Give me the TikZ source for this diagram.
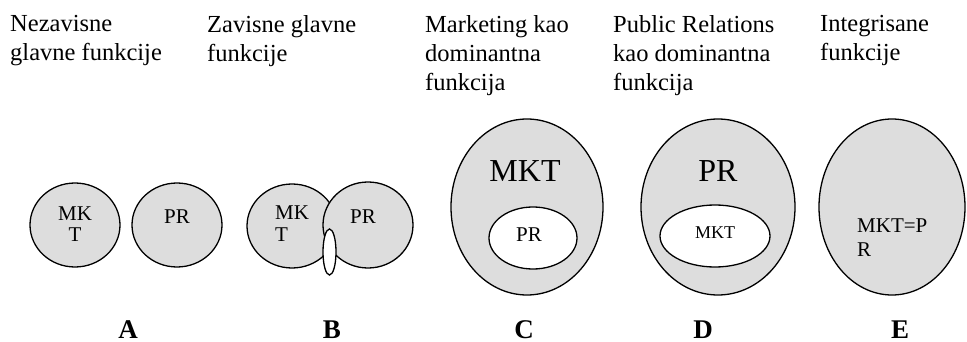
\documentclass[tikz,border=0pt]{standalone}
\usepackage{fontspec}
\setmainfont{Liberation Serif}
\usetikzlibrary{shapes}
\definecolor{fnfill}{RGB}{221,221,221}
\newcommand{\fnnode}{\node[ellipse,draw,line width=1.3pt,fill=fnfill,inner sep=0pt]}
\newcommand{\holenode}{\node[ellipse,draw,line width=1.3pt,fill=white,inner sep=0pt]}
\newcommand{\tnode}{\node[inner sep=0pt]}
\newcommand{\fsz}[2]{\fontsize{#1}{#2}\selectfont}
\tikzset{head/.style={inner sep=0pt,anchor=north west,align=left,font=\fsz{24.5}{29}},
  lbl/.style={inner sep=0pt,anchor=base,font=\fsz{27}{30}\bfseries}}

\begin{document}
\begin{tikzpicture}[x=1pt,y=-1pt]
      \useasboundingbox (0,0) rectangle (967,342);
      \node[head] (hA) at (10,15) {Nezavisne\\glavne funkcije}; %
      \node[head] (hB) at (207,15) {Zavisne glavne\\funkcije}; %
      \node[head] (hC) at (425,15) {Marketing kao\\dominantna\\funkcija}; %
      \node[head] (hD) at (613,15) {Public Relations\\kao dominantna\\funkcija}; %
      \node[head] (hE) at (820,15) {Integrisane\\funkcije}; %
      % A
      \fnnode[minimum width=90pt,minimum height=84pt] (mktA) at (75,225) {};
      \fnnode[minimum width=90pt,minimum height=84pt] (prA) at (177,225) {};
      \tnode[anchor=north,align=center,font=\fsz{21}{21}] (tmktA) at (mktA.center|-0,207) {MK\\T};
      \tnode[anchor=base,font=\fsz{21}{21}] (tprA) at (prA.center|-0,223) {PR};
      % B
      \fnnode[minimum width=90pt,minimum height=84pt] (mktB) at (292,226) {};
      \fnnode[minimum width=90pt,minimum height=86pt] (prB) at (368,225) {};
      \holenode[minimum width=13pt,minimum height=46pt] (cutB) at (329.5,252) {};
      \tnode[anchor=north west,align=left,font=\fsz{21}{22}] (tmktB) at (275,206) {MK\\T};
      \tnode[anchor=base,font=\fsz{21}{21}] (tprB) at (363,223) {PR};
      % C
      \fnnode[minimum width=152pt,minimum height=176pt] (outC) at (527,207) {};
      \holenode[minimum width=88pt,minimum height=62pt] (inC) at (533,238) {};
      \tnode[anchor=base,font=\fsz{32}{32}] (tbigC) at (525,182) {MKT};
      \tnode[anchor=base,font=\fsz{21}{21}] (tinC) at (529,241) {PR};
      % D
      \fnnode[minimum width=154pt,minimum height=176pt] (outD) at (718,207) {};
      \holenode[minimum width=110pt,minimum height=62pt] (inD) at (715,236) {};
      \tnode[anchor=base,font=\fsz{32}{32}] (tbigD) at (718,182) {PR};
      \tnode[anchor=base,font=\fsz{18}{18}] (tinD) at (715,238.5) {MKT};
      % E
      \fnnode[minimum width=146pt,minimum height=176pt] (outE) at (892,207) {};
      \tnode[anchor=north west,align=left,font=\fsz{21}{24}] (tinE) at (857,219) {MKT=P\\R};
      % labels
      \node[lbl] (lA) at (128,338) {A};
      \node[lbl] (lB) at (332,338) {B};
      \node[lbl] (lC) at (524,338) {C};
      \node[lbl] (lD) at (703,338) {D};
      \node[lbl] (lE) at (900,338) {E};
    \end{tikzpicture}
\end{document}
